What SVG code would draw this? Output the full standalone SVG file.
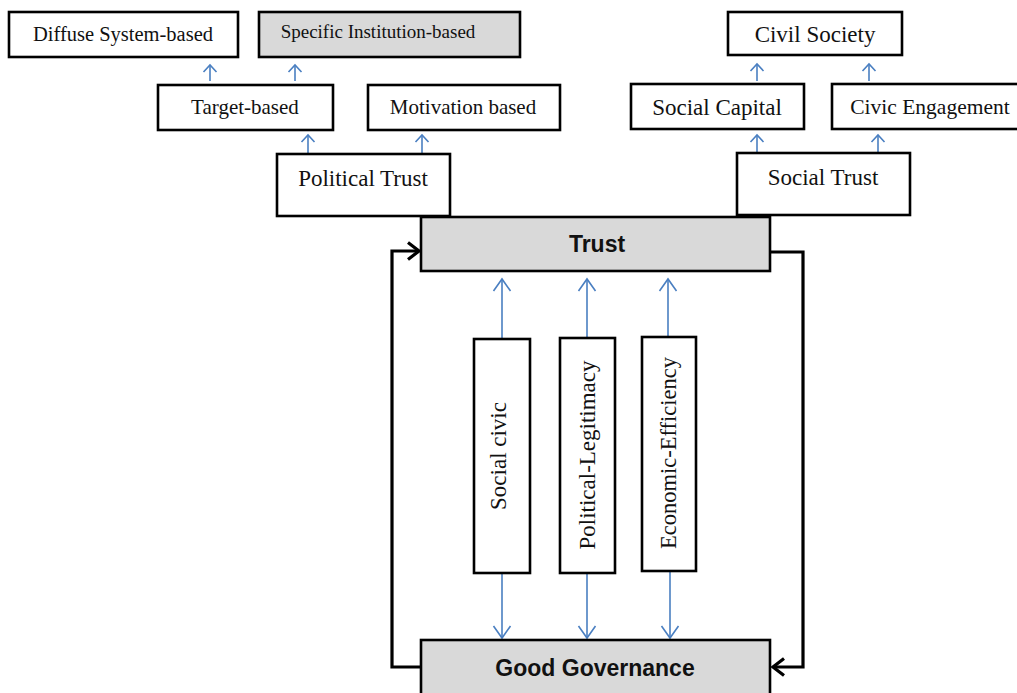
<svg xmlns="http://www.w3.org/2000/svg" width="1017" height="693" viewBox="0 0 1017 693">
<style>
.box{fill:#fff;stroke:#000;stroke-width:2.6}
.grey{fill:#d9d9d9;stroke:#000;stroke-width:2.6}
.t{font-family:"Liberation Serif","Times New Roman",serif;fill:#111;text-anchor:middle}
.b{font-family:"Liberation Sans",Arial,sans-serif;font-weight:bold;fill:#111;text-anchor:middle}
.blue{stroke:#4a7fc1;stroke-width:1.6;fill:none}
.fb{stroke:#000;stroke-width:3.2;fill:none;stroke-linejoin:miter}
</style>
<defs>
<marker id="hs" viewBox="-9 -8 11 16" refX="0" refY="0" markerWidth="11" markerHeight="16" markerUnits="userSpaceOnUse" orient="auto">
<path d="M-7,-6.5 L0,0 L-7,6.5" fill="none" stroke="#4a7fc1" stroke-width="1.6"/>
</marker>
<marker id="hl" viewBox="-14 -10 16 20" refX="0" refY="0" markerWidth="16" markerHeight="20" markerUnits="userSpaceOnUse" orient="auto">
<path d="M-12,-8.5 L0,0 L-12,8.5" fill="none" stroke="#4a7fc1" stroke-width="1.6"/>
</marker>
<marker id="hb" viewBox="-14 -11 16 22" refX="0" refY="0" markerWidth="16" markerHeight="22" markerUnits="userSpaceOnUse" orient="auto">
<path d="M-11,-8.5 L0,0 L-11,8.5" fill="none" stroke="#000" stroke-width="3.2"/>
</marker>
</defs>

<g id="connectors">
<line class="blue" x1="210" y1="81" x2="210" y2="65" marker-end="url(#hs)"/>
<line class="blue" x1="295" y1="81" x2="295" y2="65" marker-end="url(#hs)"/>
<line class="blue" x1="308" y1="154" x2="308" y2="135" marker-end="url(#hs)"/>
<line class="blue" x1="422" y1="154" x2="422" y2="135" marker-end="url(#hs)"/>
<line class="blue" x1="757" y1="81" x2="757" y2="64" marker-end="url(#hs)"/>
<line class="blue" x1="869" y1="81" x2="869" y2="64" marker-end="url(#hs)"/>
<line class="blue" x1="757" y1="153" x2="757" y2="135" marker-end="url(#hs)"/>
<line class="blue" x1="878" y1="153" x2="878" y2="135" marker-end="url(#hs)"/>
<line class="blue" x1="502" y1="339" x2="502" y2="279" marker-end="url(#hl)"/>
<line class="blue" x1="587" y1="338" x2="587" y2="279" marker-end="url(#hl)"/>
<line class="blue" x1="668" y1="337" x2="668" y2="279" marker-end="url(#hl)"/>
<line class="blue" x1="502" y1="573" x2="502" y2="638" marker-end="url(#hl)"/>
<line class="blue" x1="587" y1="573" x2="587" y2="638" marker-end="url(#hl)"/>
<line class="blue" x1="670" y1="571" x2="670" y2="638" marker-end="url(#hl)"/>
<path class="fb" d="M421,667 L392,667 L392,251 L419,251" marker-end="url(#hb)"/>
<path class="fb" d="M770,252 L803,252 L803,667 L773,667" marker-end="url(#hb)"/>
</g>

<g id="n-diffuse"><rect class="box" x="9" y="12" width="229" height="45"/><text class="t" x="123" y="41" font-size="20.5">Diffuse System-based</text></g>
<g id="n-specific"><rect class="grey" x="259" y="12" width="261" height="45"/><text class="t" x="378" y="38" font-size="19">Specific Institution-based</text></g>
<g id="n-target"><rect class="box" x="158" y="85" width="175" height="45"/><text class="t" x="245" y="114" font-size="21">Target-based</text></g>
<g id="n-motivation"><rect class="box" x="368" y="85" width="192" height="45"/><text class="t" x="463" y="114" font-size="21">Motivation based</text></g>
<g id="n-political"><rect class="box" x="277" y="154" width="173" height="62"/><text class="t" x="363" y="186" font-size="23">Political Trust</text></g>
<g id="n-civil"><rect class="box" x="728" y="12" width="174" height="43"/><text class="t" x="815" y="42" font-size="23">Civil Society</text></g>
<g id="n-capital"><rect class="box" x="631" y="84" width="173" height="45"/><text class="t" x="717" y="115" font-size="23">Social Capital</text></g>
<g id="n-civic"><rect class="box" x="832" y="84" width="190" height="45"/><text class="t" x="930" y="114" font-size="21.5">Civic Engagement</text></g>
<g id="n-social"><rect class="box" x="737" y="153" width="173" height="62"/><text class="t" x="823" y="185" font-size="23">Social Trust</text></g>
<g id="n-trust"><rect class="grey" x="421" y="217" width="349" height="54"/><text class="b" x="597" y="252" font-size="23">Trust</text></g>
<g id="n-socialcivic"><rect class="box" x="474" y="339" width="56" height="234"/><text class="t" x="0" y="0" font-size="23" transform="translate(506,456) rotate(-90)">Social civic</text></g>
<g id="n-legitimacy"><rect class="box" x="560" y="338" width="55" height="235"/><text class="t" x="0" y="0" font-size="23" transform="translate(595,455) rotate(-90)">Political-Legitimacy</text></g>
<g id="n-efficiency"><rect class="box" x="642" y="337" width="54" height="234"/><text class="t" x="0" y="0" font-size="22.5" transform="translate(676,453) rotate(-90)">Economic-Efficiency</text></g>
<g id="n-governance"><rect class="grey" x="421" y="640" width="349" height="60"/><text class="b" x="595" y="676" font-size="23">Good Governance</text></g>
</svg>
